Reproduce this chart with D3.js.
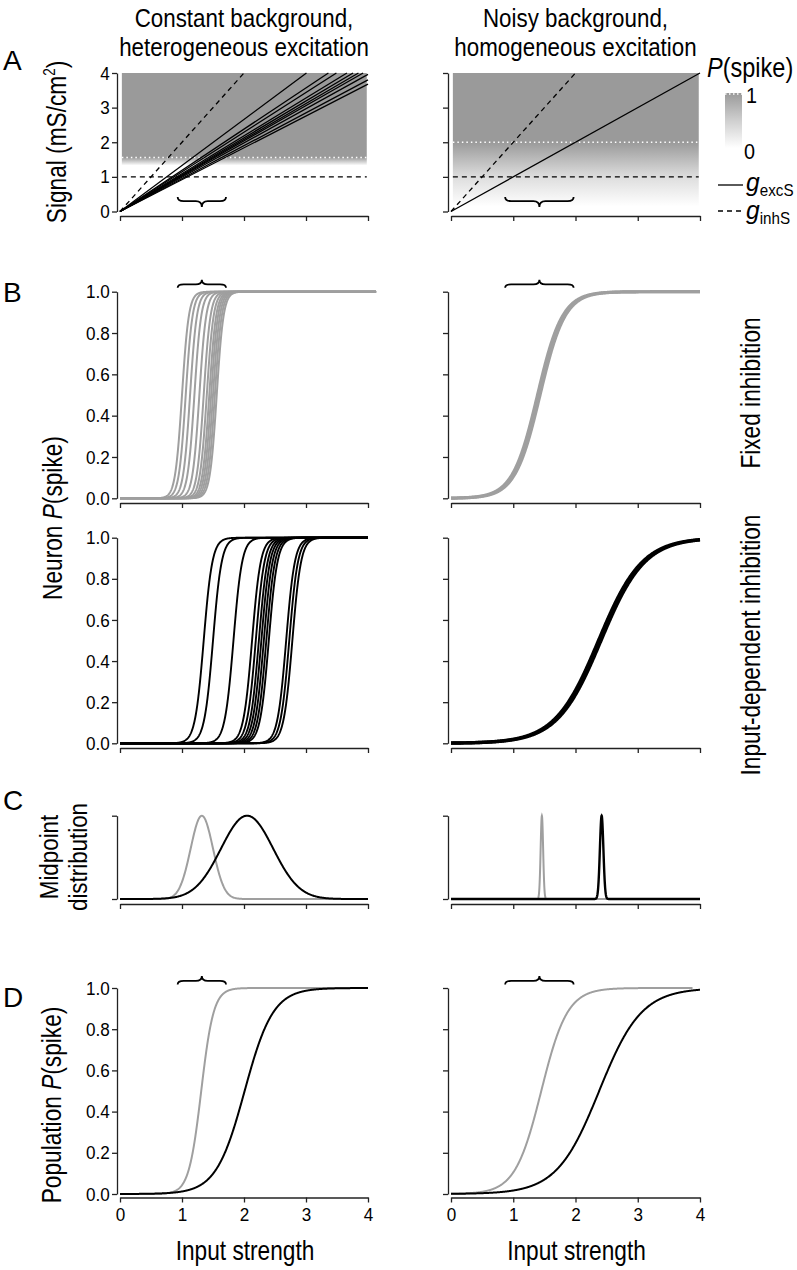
<!DOCTYPE html>
<html><head><meta charset="utf-8">
<script src="https://cdn.jsdelivr.net/npm/d3@7"></script>
<style>html,body{margin:0;padding:0;background:#fff;} svg{display:block;}</style>
</head><body><svg id="chart" width="797" height="1270"></svg>
<script>
// ---------------- DATA ----------------
const xTicks = [0, 1, 2, 3, 4];
const signalTicks = [0, 1, 2, 3, 4];
const probTicks = [0, 0.2, 0.4, 0.6, 0.8, 1.0];
const distTicks = [0, 1];

// Panel A: conductance vs input strength
const excSlopesHetero = [1.33, 1.19, 1.146, 1.093, 1.064, 1.04, 1.02, 0.99, 0.95, 0.92];
const excSlopesHomo = [1.0];
const inhSlopes = [2.0, 2.0];          // dashed diagonal g_inhS (left, right)
const inhFixedLevels = [1.0, 1.0];     // horizontal dashed line
const thresholdSignal = [1.56, 2.0];   // white dotted line (P(spike)=1 above)
const fadeEndSignal = [1.33, 0.15];    // P(spike) reaches 0 here
const shadeExtent = [0.03, 3.98];

// Panel B: single neuron P(spike) curves (logistic midpoints / widths)
const fixedMidHetero = [1.00, 1.06, 1.13, 1.20, 1.28, 1.35, 1.40, 1.44, 1.47, 1.50, 1.53, 1.56];
const fixedWidthHetero = [0.055];
const fixedEndHetero = [4.13];
const depMidHetero = [1.35, 1.50, 1.83, 2.13, 2.19, 2.24, 2.28, 2.32, 2.36, 2.40, 2.68, 2.73, 2.78];
const depWidthHetero = [0.07];
const fixedMidHomo = [1.39, 1.43];
const fixedWidthHomo = [0.2];
const depMidHomo = [2.37, 2.41];
const depWidthHomo = [0.35];

// Panel C: midpoint distributions (mean, sd) [fixed, input-dependent]
const distMeanHetero = [1.32, 2.05];
const distSdHetero = [0.18, 0.42];
const distMeanHomo = [1.46, 2.42];
const distSdHomo = [0.02, 0.028];

// Panel D: population P(spike) [fixed, input-dependent]
const popMidHetero = [1.31, 2.01];
const popWidthHetero = [0.10, 0.23];
const popEndHetero = [4.0, 4.0];
const popMidHomo = [1.45, 2.38];
const popWidthHomo = [0.21, 0.34];
const popEndHomo = [3.88, 4.0];

// Braces marking the range of input
const braceHetero = [0.93, 1.71];
const braceHomo = [0.87, 1.97];

// ---------------- LAYOUT / STYLE ----------------
const FONT = "'Liberation Sans', Arial, Helvetica, sans-serif";
const SX = 0.84;
const GRAY = "#9f9f9f";
const SHADE = "#9a9a9a";
const AXIS = "#222";
const cols = [{x0: 120, x1: 368, yAxisX: 117}, {x0: 451, x1: 700, yAxisX: 448}];
const rows = {
  A:  {top: 73,    bottom: 211.5, axis: 216},
  B1: {top: 291.7, bottom: 498.3, axis: 503},
  B2: {top: 537.7, bottom: 743.3, axis: 748},
  C:  {top: 815.7, bottom: 899,   axis: 904},
  D:  {top: 988,   bottom: 1194,  axis: 1197.5}
};

const svg = d3.select("#chart");
const defs = svg.append("defs");

function label(parent, x, y, parts, opts = {}) {
  const t = parent.append("text")
    .attr("transform", `translate(${x},${y}) rotate(${opts.rotate || 0}) scale(${opts.sx ?? SX},1)`)
    .attr("text-anchor", opts.anchor || "middle")
    .attr("font-family", FONT)
    .attr("font-size", opts.size || 27)
    .attr("fill", "#000");
  (Array.isArray(parts) ? parts : [parts]).forEach(p => {
    if (typeof p === "string") { t.append("tspan").text(p); return; }
    const s = t.append("tspan").text(p.t);
    if (p.italic) s.attr("font-style", "italic");
    if (p.size) s.attr("font-size", p.size);
    if (p.dy) s.attr("dy", p.dy);
  });
  return t;
}

function makePanel(ci, rk, yDomain, yTicks, yFmt, xFmt) {
  const c = cols[ci], r = rows[rk];
  const x = d3.scaleLinear().domain([0, 4]).range([c.x0, c.x1]);
  const y = d3.scaleLinear().domain(yDomain).range([r.bottom, r.top]);
  const g = svg.append("g");
  const ya = g.append("g").attr("transform", `translate(${c.yAxisX},0)`)
    .call(d3.axisLeft(y).tickValues(yTicks).tickSize(5).tickSizeOuter(0).tickPadding(3)
      .tickFormat(yFmt ? d3.format(yFmt) : ""));
  const xa = g.append("g").attr("transform", `translate(0,${r.axis})`)
    .call(d3.axisBottom(x).tickValues(xTicks).tickSize(5).tickSizeOuter(0).tickPadding(5)
      .tickFormat(xFmt ? d3.format(xFmt) : ""));
  [ya, xa].forEach(a => {
    a.attr("font-family", FONT).attr("font-size", 19);
    a.selectAll("path,line").attr("stroke", AXIS).attr("stroke-width", 1.3);
    a.selectAll("text").attr("fill", "#000").attr("transform", "scale(0.9,1)");
  });
  const plot = svg.append("g");
  return {x, y, g: plot, r, c};
}

const line = (p) => d3.line().x(d => p.x(d[0])).y(d => p.y(d[1]));
const logistic = (m, s) => (v) => 1 / (1 + Math.exp(-(v - m) / s));
const gauss = (m, s) => (v) => Math.exp(-0.5 * ((v - m) / s) ** 2);
function sample(f, end, step = 0.005) {
  return d3.range(0, end + 1e-9, step).map(v => [v, f(v)]);
}
function bracePath(xa, xb, yEnd, yTip) {
  const yBody = yEnd + (yTip - yEnd) * 0.42;
  const xm = (xa + xb) / 2, r = 6;
  return `M${xa},${yEnd} Q${xa},${yBody} ${xa + r},${yBody} L${xm - r},${yBody} ` +
         `Q${xm},${yBody} ${xm},${yTip} Q${xm},${yBody} ${xm + r},${yBody} ` +
         `L${xb - r},${yBody} Q${xb},${yBody} ${xb},${yEnd}`;
}
function brace(p, range, yEnd, yTip) {
  p.g.append("path").attr("d", bracePath(p.x(range[0]), p.x(range[1]), yEnd, yTip))
    .attr("fill", "none").attr("stroke", "#000").attr("stroke-width", 1.8);
}

// ---------------- PANEL A ----------------
[0, 1].forEach(ci => {
  const p = makePanel(ci, "A", [0, 4], signalTicks, ci === 0 ? "d" : null, null);
  const gid = "shade" + ci;
  const gr = defs.append("linearGradient").attr("id", gid).attr("gradientUnits", "userSpaceOnUse")
    .attr("x1", 0).attr("x2", 0).attr("y1", p.y(thresholdSignal[ci])).attr("y2", p.y(fadeEndSignal[ci]));
  if (ci === 0) {
    gr.append("stop").attr("offset", 0).attr("stop-color", SHADE);
    gr.append("stop").attr("offset", 1).attr("stop-color", "#fff");
  } else {
    gr.append("stop").attr("offset", 0).attr("stop-color", SHADE);
    gr.append("stop").attr("offset", 0.55).attr("stop-color", "#dedede");
    gr.append("stop").attr("offset", 1).attr("stop-color", "#fff");
  }
  p.g.append("rect")
    .attr("x", p.x(shadeExtent[0])).attr("width", p.x(shadeExtent[1]) - p.x(shadeExtent[0]))
    .attr("y", p.y(4)).attr("height", p.y(fadeEndSignal[ci]) - p.y(4))
    .attr("fill", `url(#${gid})`);
  p.g.append("path").attr("d", line(p)([[shadeExtent[0], thresholdSignal[ci]], [shadeExtent[1], thresholdSignal[ci]]]))
    .attr("stroke", "#fff").attr("stroke-width", 1.6).attr("stroke-dasharray", "1.5,3").attr("fill", "none");
  p.g.append("path").attr("d", line(p)([[shadeExtent[0], inhFixedLevels[ci]], [shadeExtent[1], inhFixedLevels[ci]]]))
    .attr("stroke", "#000").attr("stroke-width", 1.3).attr("stroke-dasharray", "5,4").attr("fill", "none");
  p.g.append("path").attr("d", line(p)([[0, 0], [4 / inhSlopes[ci], 4]]))
    .attr("stroke", "#000").attr("stroke-width", 1.3).attr("stroke-dasharray", "5,4").attr("fill", "none");
  const slopes = ci === 0 ? excSlopesHetero : excSlopesHomo;
  slopes.forEach(s => {
    const xe = Math.min(4, 4 / s);
    p.g.append("path").attr("d", line(p)([[0, 0], [xe, s * xe]]))
      .attr("stroke", "#000").attr("stroke-width", 1.3).attr("fill", "none");
  });
  brace(p, ci === 0 ? braceHetero : braceHomo, p.y(0) - 14.5, p.y(0) - 4.5);
});

// ---------------- PANEL B ----------------
{
  const p = makePanel(0, "B1", [0, 1], probTicks, ".1f", null);
  fixedMidHetero.forEach(m => p.g.append("path")
    .attr("d", line(p)(sample(logistic(m, fixedWidthHetero[0]), fixedEndHetero[0])))
    .attr("fill", "none").attr("stroke", GRAY).attr("stroke-width", 2));
  brace(p, braceHetero, p.y(1) - 4, p.y(1) - 12);
}
{
  const p = makePanel(0, "B2", [0, 1], probTicks, ".1f", null);
  depMidHetero.forEach(m => p.g.append("path")
    .attr("d", line(p)(sample(logistic(m, depWidthHetero[0]), 4)))
    .attr("fill", "none").attr("stroke", "#000").attr("stroke-width", 1.9));
}
{
  const p = makePanel(1, "B1", [0, 1], probTicks, null, null);
  fixedMidHomo.forEach(m => p.g.append("path")
    .attr("d", line(p)(sample(logistic(m, fixedWidthHomo[0]), 4)))
    .attr("fill", "none").attr("stroke", GRAY).attr("stroke-width", 3.2));
  brace(p, braceHomo, p.y(1) - 4, p.y(1) - 12);
}
{
  const p = makePanel(1, "B2", [0, 1], probTicks, null, null);
  depMidHomo.forEach(m => p.g.append("path")
    .attr("d", line(p)(sample(logistic(m, depWidthHomo[0]), 4)))
    .attr("fill", "none").attr("stroke", "#000").attr("stroke-width", 3.4));
}

// ---------------- PANEL C ----------------
[0, 1].forEach(ci => {
  const p = makePanel(ci, "C", [0, 1], distTicks, null, null);
  const means = ci === 0 ? distMeanHetero : distMeanHomo;
  const sds = ci === 0 ? distSdHetero : distSdHomo;
  const step = ci === 0 ? 0.01 : 0.002;
  [0, 1].forEach(k => p.g.append("path")
    .attr("d", line(p)(sample(gauss(means[k], sds[k]), 4, step)))
    .attr("fill", "none").attr("stroke", k === 0 ? GRAY : "#000")
    .attr("stroke-width", ci === 1 && k === 1 ? 2.4 : 2));
});

// ---------------- PANEL D ----------------
[0, 1].forEach(ci => {
  const p = makePanel(ci, "D", [0, 1], probTicks, ci === 0 ? ".1f" : null, "d");
  const mids = ci === 0 ? popMidHetero : popMidHomo;
  const ws = ci === 0 ? popWidthHetero : popWidthHomo;
  const ends = ci === 0 ? popEndHetero : popEndHomo;
  [0, 1].forEach(k => p.g.append("path")
    .attr("d", line(p)(sample(logistic(mids[k], ws[k]), ends[k])))
    .attr("fill", "none").attr("stroke", k === 0 ? GRAY : "#000").attr("stroke-width", 2));
  brace(p, ci === 0 ? braceHetero : braceHomo, p.y(1) - 3.5, p.y(1) - 12);
});

// ---------------- TEXT ----------------
label(svg, 244, 27, "Constant background,", {size: 26, sx: 0.86});
label(svg, 244, 56, "heterogeneous excitation", {size: 26, sx: 0.86});
label(svg, 575.5, 27, "Noisy background,", {size: 26, sx: 0.86});
label(svg, 575.5, 56, "homogeneous excitation", {size: 26, sx: 0.86});

label(svg, 3, 70, "A", {anchor: "start", sx: 1, size: 28});
label(svg, 3, 302, "B", {anchor: "start", sx: 1, size: 28});
label(svg, 3, 810, "C", {anchor: "start", sx: 1, size: 28});
label(svg, 3, 1007, "D", {anchor: "start", sx: 1, size: 28});

label(svg, 66, 142, ["Signal (mS/cm", {t: "2", size: 16, dy: -11}, {t: ")", dy: 11}], {rotate: -90});
label(svg, 62, 518, ["Neuron ", {t: "P", italic: true}, "(spike)"], {rotate: -90});
label(svg, 58, 857, "Midpoint", {rotate: -90, size: 26, sx: 0.86});
label(svg, 87, 857, "distribution", {rotate: -90, size: 26, sx: 0.86});
label(svg, 61, 1105, ["Population ", {t: "P", italic: true}, "(spike)"], {rotate: -90});
label(svg, 760, 393, "Fixed inhibition", {rotate: -90});
label(svg, 760, 645, "Input-dependent inhibition", {rotate: -90});
label(svg, 245, 1260, "Input strength");
label(svg, 576.5, 1260, "Input strength");

// ---------------- LEGEND ----------------
const lg = svg.append("g");
label(lg, 707, 77, [{t: "P", italic: true}, "(spike)"], {anchor: "start", size: 28});
const lgr = defs.append("linearGradient").attr("id", "legendGrad").attr("x1", 0).attr("x2", 0).attr("y1", 0).attr("y2", 1);
lgr.append("stop").attr("offset", 0).attr("stop-color", SHADE);
lgr.append("stop").attr("offset", 0.5).attr("stop-color", "#cfcfcf");
lgr.append("stop").attr("offset", 1).attr("stop-color", "#fff");
lg.append("rect").attr("x", 725).attr("y", 93).attr("width", 17).attr("height", 55).attr("fill", "url(#legendGrad)");
lg.append("line").attr("x1", 725).attr("x2", 742).attr("y1", 94).attr("y2", 94)
  .attr("stroke", "#fff").attr("stroke-width", 1.5).attr("stroke-dasharray", "1.5,2.5");
label(lg, 746, 103, "1", {anchor: "start", size: 22, sx: 0.9});
label(lg, 744, 159, "0", {anchor: "start", size: 22, sx: 0.9});
lg.append("line").attr("x1", 718).attr("x2", 743).attr("y1", 185).attr("y2", 185)
  .attr("stroke", "#000").attr("stroke-width", 1.3);
lg.append("line").attr("x1", 718).attr("x2", 743).attr("y1", 211).attr("y2", 211)
  .attr("stroke", "#000").attr("stroke-width", 1.3).attr("stroke-dasharray", "5,4");
label(lg, 746, 191, [{t: "g", italic: true}, {t: "excS", size: 16, dy: 5}], {anchor: "start", size: 26, sx: 0.95});
label(lg, 746, 219, [{t: "g", italic: true}, {t: "inhS", size: 16, dy: 5}], {anchor: "start", size: 26, sx: 0.95});
</script></body></html>
